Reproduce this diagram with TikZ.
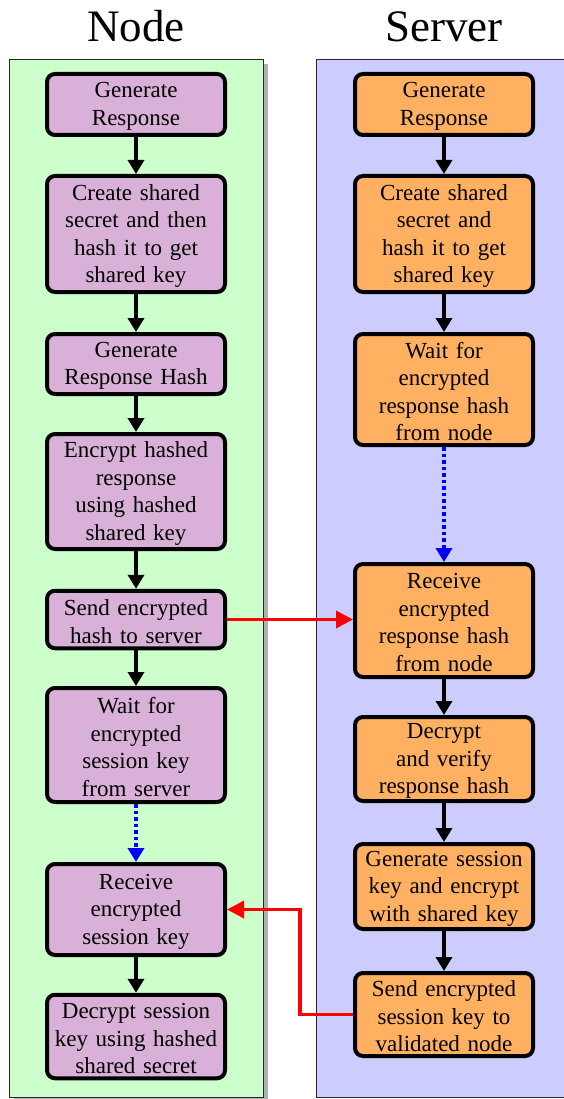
\documentclass[tikz,border=0pt]{standalone}
\usepackage{fontspec}
\setmainfont{Liberation Serif}
\usetikzlibrary{arrows.meta}
\definecolor{lanegreen}{RGB}{204,255,204}
\definecolor{laneblue}{RGB}{204,204,255}
\definecolor{nodefill}{RGB}{216,176,216}
\definecolor{srvfill}{RGB}{255,176,96}
\begin{document}
\begin{tikzpicture}[x=1pt,y=-1pt,
 box/.style={draw=black,line width=4pt,rounded corners=8pt,minimum width=178pt,text width=172pt,align=center,font=\fontsize{23}{27.6}\selectfont,inner xsep=0pt,inner ysep=1pt,execute at end node={\endgraf\kern-4pt}},
 nbox/.style={box,fill=nodefill},
 sbox/.style={box,fill=srvfill},
 flow/.style={line width=3.5pt,-{Triangle[width=16pt,length=14pt]}},
 waitarrow/.style={blue,line width=3.5pt,dash pattern=on 3.5pt off 3pt,-{Triangle[width=16pt,length=14pt]}},
 msg/.style={red,line width=3.5pt,-{Triangle[width=17pt,length=17pt]}},
 title/.style={font=\fontsize{45}{54}\selectfont},
 lane/.style={draw=black!85,line width=0.7pt}]
\useasboundingbox (0,0) rectangle (564,1099);
% lanes
\fill[black!30] (14,64) rectangle (268,1104);
\fill[lanegreen] (9,59) rectangle (263,1097);
\draw[lane] (9,59) rectangle (263,1097);
\fill[laneblue] (316,59) rectangle (570,1097);
\draw[lane] (570,59) -- (316,59) -- (316,1097) -- (570,1097);
% titles
\node[title,anchor=base] (tnode) at (136,42) {Node};
\node[title,anchor=base] (tserver) at (444,42) {Server};
% node boxes
\node[nbox,minimum height=61pt] (n1) at (136,104.5) {Generate\\Response};
\node[nbox,minimum height=116pt] (n2) at (136,234) {Create shared\\secret and then\\hash it to get\\shared key};
\node[nbox,minimum height=60pt] (n3) at (136,364) {Generate\\Response Hash};
\node[nbox,minimum height=115pt] (n4) at (136,491.5) {Encrypt hashed\\response\\using hashed\\shared key};
\node[nbox,minimum height=57.5pt] (n5) at (136,619.5) {Send encrypted\\hash to server};
\node[nbox,minimum height=114pt] (n6) at (136,745) {Wait for\\encrypted\\session key\\from server};
\node[nbox,minimum height=91pt] (n7) at (136,909.5) {Receive\\encrypted\\session key};
\node[nbox,minimum height=83.5pt] (n8) at (136,1036.5) {Decrypt session\\key using hashed\\shared secret};
% server boxes
\node[sbox,minimum height=61pt] (s1) at (444,104.5) {Generate\\Response};
\node[sbox,minimum height=116pt] (s2) at (444,234) {Create shared\\secret and\\hash it to get\\shared key};
\node[sbox,minimum height=111pt] (s3) at (444,389.5) {Wait for\\encrypted\\response hash\\from node};
\node[sbox,minimum height=113pt] (s4) at (444,620.5) {Receive\\encrypted\\response hash\\from node};
\node[sbox,minimum height=84pt] (s5) at (444,759) {Decrypt\\and verify\\response hash};
\node[sbox,minimum height=85pt] (s6) at (444,886.5) {Generate session\\key and encrypt\\with shared key};
\node[sbox,minimum height=83pt] (s7) at (444,1014.5) {Send encrypted\\session key to\\validated node};
% flows
\draw[flow] (n1) -- (n2);
\draw[flow] (n2) -- (n3);
\draw[flow] (n3) -- (n4);
\draw[flow] (n4) -- (n5);
\draw[flow] (n5) -- (n6);
\draw[waitarrow] (n6) -- (n7);
\draw[flow] (n7) -- (n8);
\draw[flow] (s1) -- (s2);
\draw[flow] (s2) -- (s3);
\draw[waitarrow] (s3) -- (s4);
\draw[flow] (s4) -- (s5);
\draw[flow] (s5) -- (s6);
\draw[flow] (s6) -- (s7);
% messages
\coordinate (bend) at (300,1000);
\draw[msg] (n5.east) -- (n5.east -| s4.west);
\draw[msg,rounded corners=0pt] (s7.west) -- (s7.west -| bend) |- (n7.east);
\end{tikzpicture}
\end{document}
